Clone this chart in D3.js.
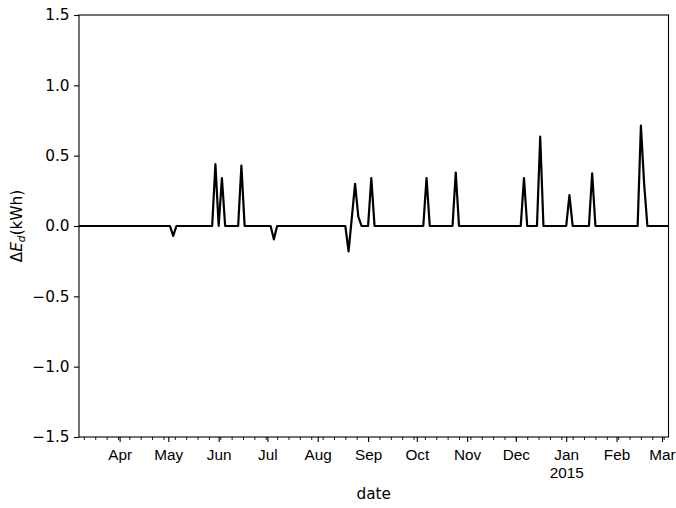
<!DOCTYPE html>
<html>
<head>
<meta charset="utf-8">
<script src="https://cdn.jsdelivr.net/npm/d3@7"></script>
<style>
  html, body { margin: 0; padding: 0; background: #fff; }
  svg { display: block; font-family: "DejaVu Sans", sans-serif; }
</style>
</head>
<body>
<svg id="chart" width="676" height="508"></svg>
<script>
// Daily energy difference: the series is flat at zero except on the listed days.
const dates = [
  "2014-03-07",
  "2014-05-02", "2014-05-04", "2014-05-06",
  "2014-05-28", "2014-05-30", "2014-06-01", "2014-06-03", "2014-06-05",
  "2014-06-13", "2014-06-15", "2014-06-17",
  "2014-07-03", "2014-07-05", "2014-07-07",
  "2014-08-18", "2014-08-20", "2014-08-24", "2014-08-26", "2014-08-28",
  "2014-09-01", "2014-09-03", "2014-09-05",
  "2014-10-05", "2014-10-07", "2014-10-09",
  "2014-10-23", "2014-10-25", "2014-10-27",
  "2014-12-04", "2014-12-06", "2014-12-08",
  "2014-12-14", "2014-12-16", "2014-12-18",
  "2015-01-01", "2015-01-03", "2015-01-05",
  "2015-01-15", "2015-01-17", "2015-01-19",
  "2015-02-14", "2015-02-16", "2015-02-18", "2015-02-20",
  "2015-03-05"
];
const deltaE = [
  0,
  0, -0.07, 0,
  0, 0.44, 0, 0.34, 0,
  0, 0.43, 0,
  0, -0.095, 0,
  0, -0.18, 0.30, 0.066, 0,
  0, 0.34, 0,
  0, 0.34, 0,
  0, 0.38, 0,
  0, 0.34, 0,
  0, 0.635, 0,
  0, 0.22, 0,
  0, 0.375, 0,
  0, 0.713, 0.30, 0,
  0
];
const yTicks = [-1.5, -1.0, -0.5, 0.0, 0.5, 1.0, 1.5];
const yDomain = [-1.5, 1.5];

const parse = d3.utcParse("%Y-%m-%d");
const points = dates.map((d, i) => ({ date: parse(d), value: deltaE[i] }));

const W = 676, H = 508;
const margin = { top: 15, right: 7.5, bottom: 71, left: 79 };
const iw = W - margin.left - margin.right;
const ih = H - margin.top - margin.bottom;

const svg = d3.select("#chart");
const g = svg.append("g").attr("transform", `translate(${margin.left},${margin.top})`);

const x = d3.scaleUtc()
  .domain(d3.extent(points, d => d.date))
  .range([0, iw]);
const y = d3.scaleLinear().domain(yDomain).range([ih, 0]);

const fontSize = 15.3;
const minus = s => s.replace("-", "\u2212");

// y axis
const yAxis = d3.axisLeft(y)
  .tickValues(yTicks)
  .tickSize(5)
  .tickPadding(4.5)
  .tickFormat(d => minus(d3.format(".1f")(d)));
const gy = g.append("g").call(yAxis);
gy.select(".domain").remove();
gy.selectAll(".tick line").attr("stroke", "#000").attr("stroke-width", 1.1);
gy.selectAll(".tick text").attr("font-size", fontSize).attr("fill", "#000")
  .attr("font-family", "DejaVu Sans, sans-serif");

// x axis: month starts (major) and Mondays (minor)
const [d0, d1] = x.domain();
const months = d3.utcMonth.range(d3.utcMonth.ceil(d0), d1);
const mondays = d3.utcMonday.range(d3.utcDay.ceil(d0), d1);

const gxMinor = g.append("g").attr("transform", `translate(0,${ih})`)
  .call(d3.axisBottom(x).tickValues(mondays).tickSize(3).tickFormat(""));
gxMinor.select(".domain").remove();
gxMinor.selectAll(".tick line").attr("stroke", "#000").attr("stroke-width", 0.9);

const gx = g.append("g").attr("transform", `translate(0,${ih})`)
  .call(d3.axisBottom(x).tickValues(months).tickSize(5).tickPadding(5).tickFormat(""));
gx.select(".domain").remove();
gx.selectAll(".tick line").attr("stroke", "#000").attr("stroke-width", 1.1);
const monthFmt = d3.utcFormat("%b");
gx.selectAll(".tick").each(function (d) {
  const t = d3.select(this).append("text")
    .attr("fill", "#000")
    .attr("font-size", fontSize)
    .attr("text-anchor", "middle")
    .attr("y", 12)
    .attr("dy", "0.71em");
  t.append("tspan").attr("x", 0).text(monthFmt(d));
  if (d.getUTCMonth() === 0) {
    t.append("tspan").attr("x", 0).attr("dy", "1.2em").text(d.getUTCFullYear());
  }
});

// data line
const line = d3.line().x(d => x(d.date)).y(d => y(d.value));
g.append("path")
  .datum(points)
  .attr("fill", "none")
  .attr("stroke", "#000")
  .attr("stroke-width", 2.2)
  .attr("stroke-linejoin", "round")
  .attr("d", line);

// frame
g.append("rect")
  .attr("x", 0).attr("y", 0).attr("width", iw).attr("height", ih)
  .attr("fill", "none").attr("stroke", "#000").attr("stroke-width", 1.1);

// axis labels
svg.append("text")
  .attr("x", margin.left + iw / 2)
  .attr("y", 499)
  .attr("text-anchor", "middle")
  .attr("font-size", fontSize)
  .attr("fill", "#000")
  .text("date");

const yl = svg.append("text")
  .attr("transform", `translate(22,${margin.top + ih / 2}) rotate(-90)`)
  .attr("text-anchor", "middle")
  .attr("font-size", fontSize)
  .attr("fill", "#000");
yl.append("tspan").text("\u0394");
yl.append("tspan").attr("font-style", "italic").text("E");
yl.append("tspan").attr("font-style", "italic").attr("font-size", fontSize * 0.7)
  .attr("dy", 3).text("d");
yl.append("tspan").attr("dy", -3).text("(kWh)");
</script>
</body>
</html>
